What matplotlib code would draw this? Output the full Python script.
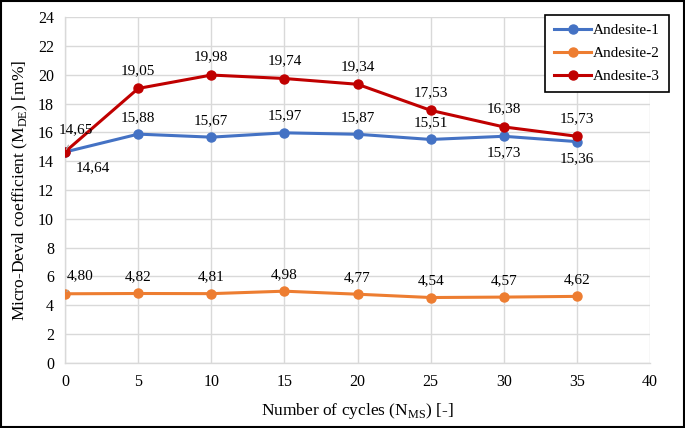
import matplotlib
matplotlib.use("Agg")
import matplotlib.pyplot as plt
from matplotlib.patches import Rectangle

cycles = [0, 5, 10, 15, 20, 25, 30, 35]
andesite1 = [14.64, 15.88, 15.67, 15.97, 15.87, 15.51, 15.73, 15.36]
andesite2 = [4.80, 4.82, 4.81, 4.98, 4.77, 4.54, 4.57, 4.62]
andesite3 = [14.65, 19.05, 19.98, 19.74, 19.34, 17.53, 16.38, 15.73]
series_names = ["Andesite-1", "Andesite-2", "Andesite-3"]
x_ticks = [0, 5, 10, 15, 20, 25, 30, 35, 40]
y_ticks = [0, 2, 4, 6, 8, 10, 12, 14, 16, 18, 20, 22, 24]

plt.rcParams['font.family'] = ['Liberation Serif', 'DejaVu Serif']
plt.rcParams['mathtext.fontset'] = 'custom'
plt.rcParams['mathtext.rm'] = 'Liberation Serif'

fig = plt.figure(figsize=(6.85, 4.28), dpi=100)
fig.patches.append(Rectangle((0.002, 0.003), 0.996, 0.994, transform=fig.transFigure,
                             fill=False, edgecolor='black', linewidth=1.5))
ax = fig.add_axes([0.095, 0.152, 0.854, 0.808])

colors = ['#4472C4', '#ED7D31', '#C00000']
for vals, name, c in zip([andesite1, andesite2, andesite3], series_names, colors):
    ax.plot(cycles, vals, color=c, lw=2.2, marker='o', ms=6.5, label=name, zorder=3)

ax.set_xlim(0, 40)
ax.set_ylim(0, 24)
ax.set_xticks(x_ticks)
ax.set_yticks(y_ticks)
ax.grid(True, color='#d9d9d9', lw=1)
ax.set_axisbelow(True)
for s in ['top', 'right']:
    ax.spines[s].set_visible(False)
for s in ['left', 'bottom']:
    ax.spines[s].set_color('#d9d9d9')
    ax.spines[s].set_linewidth(1)
ax.tick_params(length=0, labelsize=11.5, pad=8)

ax.set_xlabel(r"Number of cycles (N$_{\mathrm{MS}}$) [-]", fontsize=12.5, labelpad=8)
ax.set_ylabel(r"Micro-Deval coefficient (M$_{\mathrm{DE}}$) [m%]", fontsize=12.5, labelpad=6)

def fmt(v):
    return f"{v:.2f}".replace('.', ',')

fs = 11
# Andesite-1 labels
for i, (x, v) in enumerate(zip(cycles, andesite1)):
    if i == 0:
        ax.annotate(fmt(v), (x, v), xytext=(20, -11), textcoords='offset points',
                    ha='center', va='center', fontsize=fs)
    elif x in (30, 35):
        ax.annotate(fmt(v), (x, v), xytext=(0, -12), textcoords='offset points',
                    ha='center', va='center', fontsize=fs)
    else:
        ax.annotate(fmt(v), (x, v), xytext=(0, 12), textcoords='offset points',
                    ha='center', va='center', fontsize=fs)
# Andesite-3 labels
for i, (x, v) in enumerate(zip(cycles, andesite3)):
    if i == 0:
        ax.annotate(fmt(v), (x, v), xytext=(8, 16), textcoords='offset points',
                    ha='center', va='center', fontsize=fs,
                    arrowprops=dict(arrowstyle='-', color='#a6a6a6', lw=0.8,
                                    shrinkA=5, shrinkB=2))
    else:
        ax.annotate(fmt(v), (x, v), xytext=(0, 13), textcoords='offset points',
                    ha='center', va='center', fontsize=fs)
# Andesite-2 labels
for i, (x, v) in enumerate(zip(cycles, andesite2)):
    if i == 0:
        ax.annotate(fmt(v), (x, v), xytext=(11, 13), textcoords='offset points',
                    ha='center', va='center', fontsize=fs,
                    arrowprops=dict(arrowstyle='-', color='#a6a6a6', lw=0.8,
                                    shrinkA=5, shrinkB=2))
    else:
        ax.annotate(fmt(v), (x, v), xytext=(0, 12), textcoords='offset points',
                    ha='center', va='center', fontsize=fs)

leg = fig.legend(loc='upper right', bbox_to_anchor=(0.976, 0.966), fontsize=11,
                 frameon=True, fancybox=False, edgecolor='black', framealpha=1,
                 handlelength=2.4, borderpad=0.6, labelspacing=0.6, handletextpad=0.1,
                 borderaxespad=0)
leg.get_frame().set_linewidth(1.2)

fig.savefig("out.png", dpi=100)
